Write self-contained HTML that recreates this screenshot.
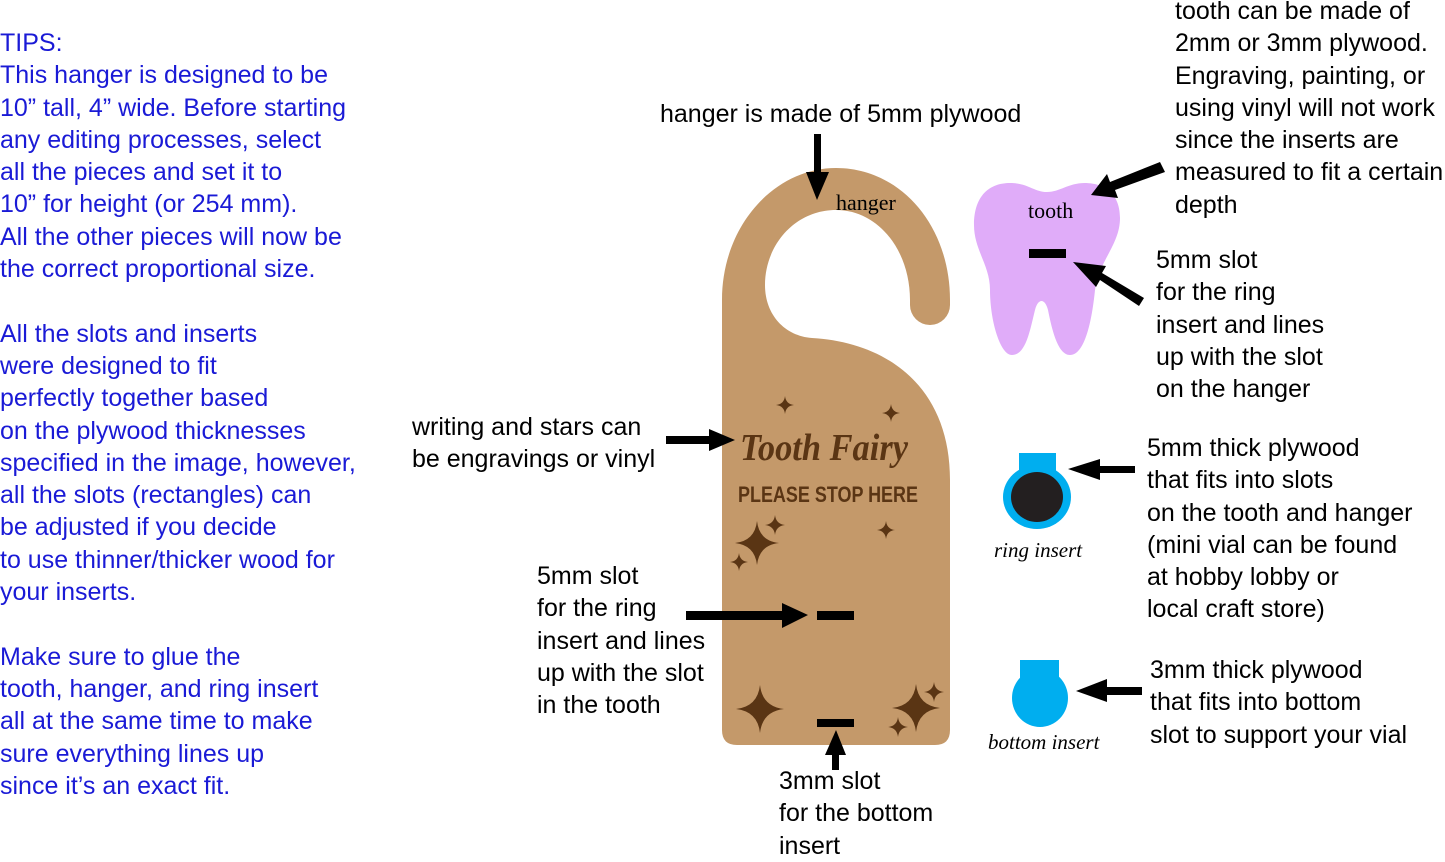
<!DOCTYPE html>
<html><head><meta charset="utf-8"><style>
body{margin:0;width:1445px;height:855px;background:#fff;position:relative;overflow:hidden;font-family:"Liberation Sans",sans-serif}
.t{position:absolute;font-size:25px;line-height:32.3px;color:#000;white-space:nowrap}
.b{color:#1a1ad6}
</style></head><body>
<div class="t b" style="left:0;top:27px">TIPS:<br>This hanger is designed to be<br>10” tall, 4” wide. Before starting<br>any editing processes, select<br>all the pieces and set it to<br>10” for height (or 254 mm).<br>All the other pieces will now be<br>the correct proportional size.<br><br>All the slots and inserts<br>were designed to fit<br>perfectly together based<br>on the plywood thicknesses<br>specified in the image, however,<br>all the slots (rectangles) can<br>be adjusted if you decide<br>to use thinner/thicker wood for<br>your inserts.<br><br>Make sure to glue the<br>tooth, hanger, and ring insert<br>all at the same time to make<br>sure everything lines up<br>since it’s an exact fit.</div>
<div class="t" style="left:660px;top:98px">hanger is made of 5mm plywood</div>
<div class="t" style="left:412px;top:411px">writing and stars can<br>be engravings or vinyl</div>
<div class="t" style="left:537px;top:560px">5mm slot<br>for the ring<br>insert and lines<br>up with the slot<br>in the tooth</div>
<div class="t" style="left:779px;top:765px">3mm slot<br>for the bottom<br>insert</div>
<div class="t" style="left:1175px;top:-5px">tooth can be made of<br>2mm or 3mm plywood.<br>Engraving, painting, or<br>using vinyl will not work<br>since the inserts are<br>measured to fit a certain<br>depth</div>
<div class="t" style="left:1156px;top:244px">5mm slot<br>for the ring<br>insert and lines<br>up with the slot<br>on the hanger</div>
<div class="t" style="left:1147px;top:432px">5mm thick plywood<br>that fits into slots<br>on the tooth and hanger<br>(mini vial can be found<br>at hobby lobby or<br>local craft store)</div>
<div class="t" style="left:1150px;top:654px">3mm thick plywood<br>that fits into bottom<br>slot to support your vial</div>
<svg width="1445" height="855" style="position:absolute;left:0;top:0">
<defs><path id="st" d="M0,-20 Q2,-2 20,0 Q2,2 0,20 Q-2,2 -20,0 Q-2,-2 0,-20Z" fill="#5a3514"/></defs>
<path d="M722,730 V300 C722,225 775,168 836,168 C900,168 950,225 950,300 V305 A20,20 0 0 1 910,305 V300 C910,250 878,210 836,210 C795,210 765,245 765,285 C765,315 785,336 812,338 C885,342 950,385 950,480 V730 Q950,745 935,745 H737 Q722,745 722,730 Z" fill="#c4996a"/>
<text x="836" y="210" font-family="Liberation Serif,serif" font-size="22">hanger</text>
<text x="740" y="460" font-family="Liberation Serif,serif" font-style="italic" font-weight="bold" font-size="38" fill="#5a3514" textLength="168" lengthAdjust="spacingAndGlyphs">Tooth Fairy</text>
<text x="738" y="502" font-family="Liberation Sans,sans-serif" font-weight="bold" font-size="22" fill="#5a3514" textLength="180" lengthAdjust="spacingAndGlyphs">PLEASE  STOP  HERE</text>
<use href="#st" transform="translate(785,405) scale(.45)"/>
<use href="#st" transform="translate(891,413) scale(.45)"/>
<use href="#st" transform="translate(757,543) scale(1.1)"/>
<use href="#st" transform="translate(775,525) scale(.5)"/>
<use href="#st" transform="translate(739,562) scale(.45)"/>
<use href="#st" transform="translate(886,530) scale(.45)"/>
<use href="#st" transform="translate(760,709) scale(1.2)"/>
<use href="#st" transform="translate(916,708) scale(1.2)"/>
<use href="#st" transform="translate(934,692) scale(.5)"/>
<use href="#st" transform="translate(898,727) scale(.5)"/>
<rect x="817" y="611" width="37" height="9"/>
<rect x="817" y="719" width="37" height="8"/>
<path d="M1010,183 C990,183 974,195 974,225 C974,250 990,265 990,290 C990,320 1000,355 1012,355 C1026,355 1030,330 1035,310 C1038,298 1045,298 1048,310 C1052,330 1058,355 1070,355 C1085,355 1092,320 1095,290 C1098,262 1120,245 1120,218 C1120,190 1100,183 1085,183 C1068,183 1060,192 1047,192 C1034,192 1028,183 1010,183Z" fill="#e0acf9"/>
<text x="1028" y="218" font-family="Liberation Serif,serif" font-size="22">tooth</text>
<rect x="1029" y="249" width="37" height="9"/>
<rect x="1019" y="453" width="37" height="20" fill="#00aeef"/>
<ellipse cx="1037" cy="497" rx="34" ry="32" fill="#00aeef"/>
<ellipse cx="1037" cy="497" rx="26" ry="25" fill="#231f20"/>
<text x="994" y="557" font-family="Liberation Serif,serif" font-style="italic" font-size="21">ring insert</text>
<rect x="1020" y="660" width="39" height="24" fill="#00aeef"/>
<ellipse cx="1040" cy="698" rx="28" ry="29" fill="#00aeef"/>
<text x="988" y="749" font-family="Liberation Serif,serif" font-style="italic" font-size="21">bottom insert</text>
<g fill="#000">
<rect x="814" y="134" width="7" height="42"/><path d="M806,172 L829,172 L817,200Z"/>
<rect x="666" y="436" width="45" height="8"/><path d="M709,429 L709,451 L735,440Z"/>
<rect x="686" y="611" width="100" height="9"/><path d="M782,603 L782,628 L808,615Z"/>
<rect x="832" y="752" width="7" height="18"/><path d="M825,755 L846,755 L836,730Z"/>
<rect x="1097" y="466" width="38" height="7"/><path d="M1100,459 L1100,480 L1068,469Z"/>
<rect x="1105" y="687" width="37" height="8"/><path d="M1107,679 L1107,702 L1076,691Z"/>
<path d="M1160,162 L1165,172 L1115,190 L1118,198 L1091,195 L1107,174 L1110,182Z"/>
<path d="M1144,298 L1139,306 L1100,280 L1096,287 L1073,262 L1106,266 L1102,273Z"/>
</g>
</svg>
</body></html>
